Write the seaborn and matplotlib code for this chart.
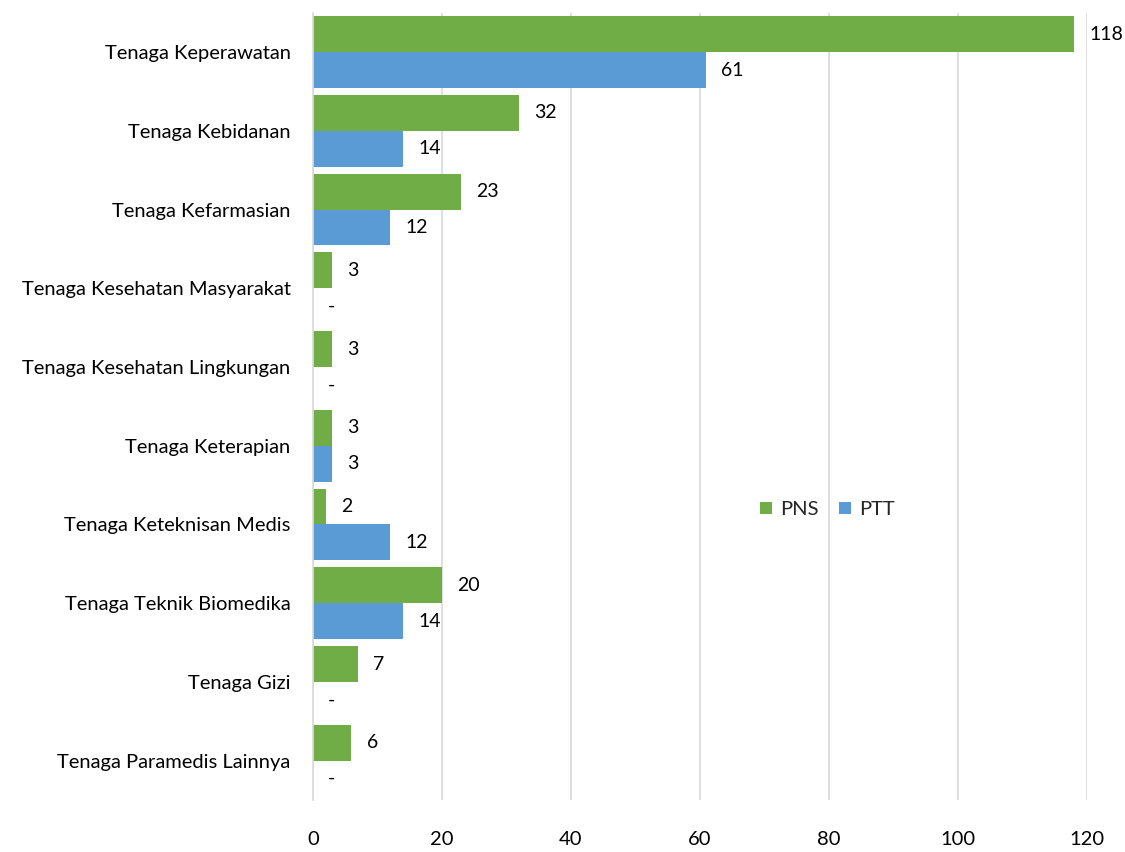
import pandas as pd
import numpy as np
import matplotlib
matplotlib.use("Agg")
import matplotlib.pyplot as plt
import seaborn as sns

categories = [
    "Tenaga Keperawatan",
    "Tenaga Kebidanan",
    "Tenaga Kefarmasian",
    "Tenaga Kesehatan Masyarakat",
    "Tenaga Kesehatan Lingkungan",
    "Tenaga Keterapian",
    "Tenaga Keteknisan Medis",
    "Tenaga Teknik Biomedika",
    "Tenaga Gizi",
    "Tenaga Paramedis Lainnya",
]
pns = [118, 32, 23, 3, 3, 3, 2, 20, 7, 6]
ptt = [61, 14, 12, 0, 0, 3, 12, 14, 0, 0]
series = ["PNS", "PTT"]
colors = ["#70AD47", "#5B9BD5"]

df = pd.DataFrame({
    "kategori": categories * 2,
    "status": ["PNS"] * len(categories) + ["PTT"] * len(categories),
    "jumlah": pns + ptt,
})

sns.set_style("white")
plt.rcParams["font.family"] = ["Lato", "DejaVu Sans"]
fs = 14.5

fig = plt.figure(figsize=(11.25, 8.52), dpi=100)
ax = fig.add_axes([0.278, 0.061, 0.688, 0.924])

sns.barplot(data=df, y="kategori", x="jumlah", hue="status", order=categories,
            hue_order=series, palette=colors, orient="h", width=0.91,
            saturation=1, linewidth=0, ax=ax)

# data labels, "-" for empty values
for cont, vals in zip(ax.containers, [pns, ptt]):
    labels = [str(v) if v != 0 else "-" for v in vals]
    ax.bar_label(cont, labels=labels, padding=11, fontsize=14, color="black")

ax.set_xlim(0, 120)
ax.set_xticks(np.arange(0, 121, 20))
ax.set_ylim(len(categories) - 0.5, -0.5)
ax.xaxis.grid(True, color="#D9D9D9", linewidth=1.2)
ax.set_axisbelow(True)
for s in ["top", "right", "bottom"]:
    ax.spines[s].set_visible(False)
ax.spines["left"].set_color("#D9D9D9")
ax.spines["left"].set_linewidth(1.2)
ax.set_xlabel("")
ax.set_ylabel("")
ax.tick_params(axis="x", labelsize=fs, length=0, pad=22, labelcolor="black")
ax.tick_params(axis="y", labelsize=fs, length=0, pad=16, labelcolor="black")

ax.legend(loc="center", bbox_to_anchor=(0.665, 0.369), ncol=2, frameon=False,
          fontsize=fs, handlelength=0.6, handleheight=0.6, handletextpad=0.4,
          columnspacing=1.0)

fig.savefig("out.png", dpi=100)
